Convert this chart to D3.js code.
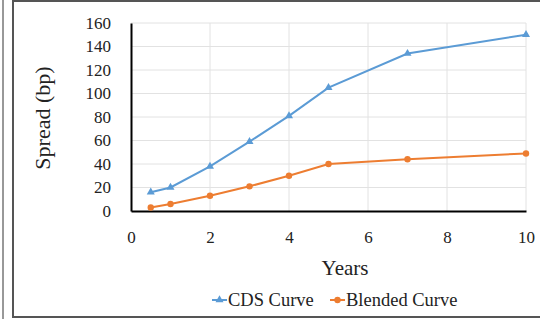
<!DOCTYPE html>
<html>
<head>
<meta charset="utf-8">
<script src="https://cdn.jsdelivr.net/npm/d3@7"></script>
<style>
  body { margin: 0; background: #fff; }
  text { font-family: 'Liberation Serif', serif; fill: #222; }
</style>
</head>
<body>
<svg id="chart" width="540" height="319"></svg>
<script>
const years = [0.5, 1, 2, 3, 4, 5, 7, 10];
const cdsCurve = [16, 20, 38, 59, 81, 105, 134, 150];
const blendedCurve = [3, 6, 13, 21, 30, 40, 44, 49];
const xTicks = [0, 2, 4, 6, 8, 10];
const yTicks = [0, 20, 40, 60, 80, 100, 120, 140, 160];

const svg = d3.select('#chart');

// outer frame lines
svg.append('line').attr('x1', 3).attr('x2', 3).attr('y1', 0).attr('y2', 319)
  .attr('stroke', '#333').attr('stroke-width', 1);
svg.append('rect').attr('x', 13).attr('y', 1).attr('width', 540).attr('height', 316)
  .attr('fill', 'none').attr('stroke', '#555').attr('stroke-width', 2);

const margin = {t: 23, l: 131, r: 14, b: 108};
const W = 540, H = 319;

const x = d3.scaleLinear().domain([0, 10]).range([margin.l, W - margin.r]);
const y = d3.scaleLinear().domain([0, 160]).range([H - margin.b, margin.t]);

// grid
svg.append('g').selectAll('line').data(yTicks.slice(1)).join('line')
  .attr('x1', x(0)).attr('x2', x(10))
  .attr('y1', d => y(d)).attr('y2', d => y(d))
  .attr('stroke', '#e2e2e2').attr('stroke-width', 1);
svg.append('g').selectAll('line').data(xTicks.slice(1)).join('line')
  .attr('x1', d => x(d)).attr('x2', d => x(d))
  .attr('y1', y(0)).attr('y2', y(160))
  .attr('stroke', '#e2e2e2').attr('stroke-width', 1);

// axes
const axisX = svg.append('g')
  .attr('transform', `translate(0, ${y(0)})`)
  .call(d3.axisBottom(x).tickValues(xTicks).tickSize(0).tickPadding(20));
axisX.select('.domain').attr('stroke', '#000').attr('stroke-width', 2);
axisX.selectAll('text').style('font-size', '17px').style('font-family', 'Liberation Serif').attr('fill', '#222');

const axisY = svg.append('g')
  .attr('transform', `translate(${x(0)}, 0)`)
  .call(d3.axisLeft(y).tickValues(yTicks).tickSize(0).tickPadding(20));
axisY.select('.domain').attr('stroke', '#000').attr('stroke-width', 2);
axisY.selectAll('text').style('font-size', '17px').style('font-family', 'Liberation Serif').attr('fill', '#222');

// titles
svg.append('text').attr('x', 345).attr('y', 275).attr('text-anchor', 'middle')
  .style('font-size', '21px').text('Years');
svg.append('text').attr('transform', 'translate(50, 118) rotate(-90)').attr('text-anchor', 'middle')
  .style('font-size', '22px').text('Spread (bp)');

// series
const series = [
  {name: 'CDS Curve', values: cdsCurve, color: '#5b9bd5', marker: 'triangle'},
  {name: 'Blended Curve', values: blendedCurve, color: '#ed7d31', marker: 'circle'}
];

const line = d3.line().x(d => x(d[0])).y(d => y(d[1]));
const tri = d3.symbol().type(d3.symbolTriangle).size(28);

series.forEach(s => {
  const pts = years.map((yr, i) => [yr, s.values[i]]);
  svg.append('path').datum(pts).attr('d', line)
    .attr('fill', 'none').attr('stroke', s.color).attr('stroke-width', 2);
  if (s.marker === 'triangle') {
    svg.append('g').selectAll('path').data(pts).join('path')
      .attr('d', tri).attr('transform', d => `translate(${x(d[0])}, ${y(d[1])})`)
      .attr('fill', s.color);
  } else {
    svg.append('g').selectAll('circle').data(pts).join('circle')
      .attr('cx', d => x(d[0])).attr('cy', d => y(d[1])).attr('r', 3.2)
      .attr('fill', s.color);
  }
});

// legend
const legend = svg.append('g').attr('transform', 'translate(0, 300)');
const legendX = [212, 330];
series.forEach((s, i) => {
  const g = legend.append('g').attr('transform', `translate(${legendX[i]}, 0)`);
  g.append('line').attr('x1', 0).attr('x2', 15).attr('y1', 0).attr('y2', 0)
    .attr('stroke', s.color).attr('stroke-width', 2);
  if (s.marker === 'triangle') {
    g.append('path').attr('d', tri).attr('transform', 'translate(7.5, 0)').attr('fill', s.color);
  } else {
    g.append('circle').attr('cx', 7.5).attr('cy', 0).attr('r', 3.2).attr('fill', s.color);
  }
  g.append('text').attr('x', 16).attr('y', 6).style('font-size', '18.5px').text(s.name);
});
</script>
</body>
</html>
